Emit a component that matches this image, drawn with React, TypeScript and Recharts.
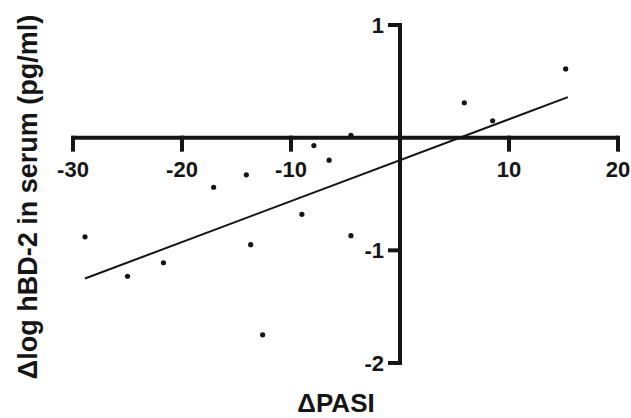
import {
  ComposedChart,
  XAxis,
  YAxis,
  Scatter,
  ReferenceLine,
  ReferenceDot,
} from "recharts";

const pasiChange = [-28.9, -25.0, -21.7, -17.1, -14.1, -13.7, -12.6, -9.0, -7.9, -6.5, -4.5, -4.5, 5.9, 8.5, 15.2];
const hbdChange = [-0.88, -1.23, -1.11, -0.44, -0.33, -0.95, -1.75, -0.68, -0.07, -0.2, 0.02, -0.87, 0.31, 0.15, 0.61];

const xTicks = [-30, -20, -10, 10, 20];
const yTicks = [1, -1, -2];

// regression line end points
const fitX = [-28.9, 15.4];
const fitY = [-1.25, 0.36];

const points = pasiChange.map((x, i) => ({ x, y: hbdChange[i] }));

const ink = "#151515";
const font = "'Liberation Sans', Arial, sans-serif";

export default function App() {
  return (
    <div style={{ position: "absolute", left: 0, top: 0, width: 631, height: 418, background: "#fff" }}>
      <ComposedChart width={631} height={418} margin={{ top: 25, right: 13, left: 73, bottom: 55 }}>
        <XAxis type="number" dataKey="x" domain={[-30, 20]} hide />
        <YAxis type="number" dataKey="y" domain={[-2, 1]} hide />

        {/* axes through the origin */}
        <ReferenceLine
          segment={[{ x: -30, y: 0 }, { x: 20, y: 0 }]}
          stroke={ink}
          strokeWidth={4}
          ifOverflow="visible"
        />
        <ReferenceLine
          segment={[{ x: 0, y: -2 }, { x: 0, y: 1 }]}
          stroke={ink}
          strokeWidth={4}
          ifOverflow="visible"
        />

        {xTicks.map((t) => (
          <ReferenceDot
            key={"x" + t}
            x={t}
            y={0}
            r={0}
            ifOverflow="visible"
            shape={(p: any) => (
              <g>
                <line x1={p.cx} y1={p.cy} x2={p.cx} y2={p.cy + 12} stroke={ink} strokeWidth={4} strokeLinecap="square" />
                <text x={p.cx} y={p.cy + 39} textAnchor="middle" fontFamily={font} fontWeight="bold" fontSize={22} fill={ink}>
                  {t}
                </text>
              </g>
            )}
          />
        ))}

        {yTicks.map((t) => (
          <ReferenceDot
            key={"y" + t}
            x={0}
            y={t}
            r={0}
            ifOverflow="visible"
            shape={(p: any) => (
              <g>
                <line x1={p.cx} y1={p.cy} x2={p.cx - 10} y2={p.cy} stroke={ink} strokeWidth={4} strokeLinecap="square" />
                <text x={p.cx - 16} y={p.cy + 8} textAnchor="end" fontFamily={font} fontWeight="bold" fontSize={22} fill={ink}>
                  {t}
                </text>
              </g>
            )}
          />
        ))}

        <ReferenceLine
          segment={[{ x: fitX[0], y: fitY[0] }, { x: fitX[1], y: fitY[1] }]}
          stroke={ink}
          strokeWidth={2}
          ifOverflow="visible"
        />

        <Scatter
          data={points}
          isAnimationActive={false}
          shape={(p: any) => <circle cx={p.cx} cy={p.cy} r={2.6} fill={ink} />}
        />
      </ComposedChart>

      <svg width={631} height={418} style={{ position: "absolute", left: 0, top: 0, pointerEvents: "none" }}>
        <text
          x={37}
          y={197}
          transform="rotate(-90 37 197)"
          textAnchor="middle"
          fontFamily={font}
          fontWeight="bold"
          fontSize={27}
          fill={ink}
        >
          Δlog hBD-2 in serum (pg/ml)
        </text>
        <text x={336} y={412} textAnchor="middle" fontFamily={font} fontWeight="bold" fontSize={26} fill={ink}>
          ΔPASI
        </text>
      </svg>
    </div>
  );
}
